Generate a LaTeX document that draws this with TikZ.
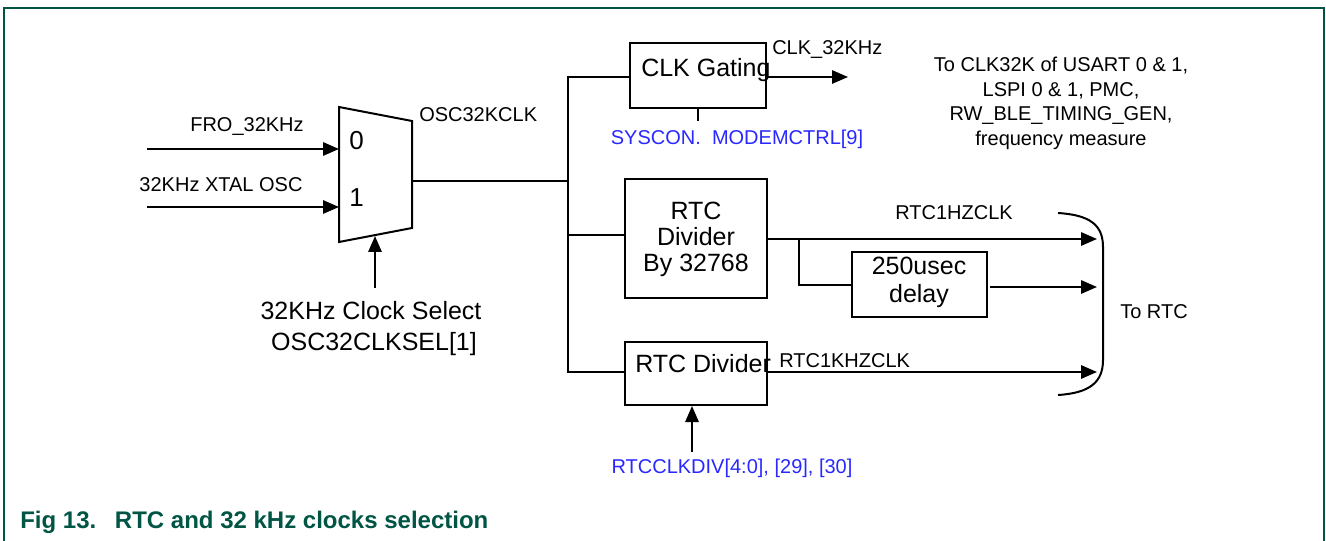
\documentclass[tikz,border=0pt]{standalone}
\usepackage{fontspec}
\setmainfont{Liberation Sans}
\usetikzlibrary{arrows.meta,fit}
\definecolor{framegreen}{RGB}{0,85,68}
\definecolor{regblue}{RGB}{40,40,255}

\begin{document}
\begin{tikzpicture}[x=0.75pt,y=-0.75pt,
  wire/.style={line width=1.5pt},
  sig/.style={wire,-{Triangle[length=12pt,width=10pt]}},
  blk/.style={draw,line width=1.5pt,inner sep=0pt},
  thinblk/.style={draw,line width=0.8pt,inner sep=0pt},
  lbl/.style={inner sep=0pt,font=\fontsize{15}{18}\selectfont},
  big/.style={inner sep=0pt,font=\fontsize{18.75}{22}\selectfont},
  pin/.style={inner sep=0pt,font=\fontsize{19.5}{22}\selectfont},
  reg/.style={lbl,text=regblue},
]
\useasboundingbox (0,0) rectangle (1326,541);

% frame
\draw[framegreen,line width=1.5pt] (4,541) -- (4,8) -- (1324,8) -- (1324,541);

% 2:1 clock multiplexer
\draw[wire] (339,107) -- (412,121) -- (412,228) -- (339,242) -- cycle;
\coordinate (mux0) at (339,149);
\coordinate (mux1) at (339,207);
\coordinate (muxout) at (412,181);
\coordinate (muxsel) at (375,236);
\node[pin,anchor=base west] (d0) at (349,150) {0};
\node[pin,anchor=base west] (d1) at (349,207) {1};

% mux inputs
\coordinate (fro) at (147,149);
\coordinate (xtal) at (147,207);
\draw[sig] (fro) -- (mux0);
\draw[sig] (xtal) -- (mux1);
\node[lbl,anchor=base] (frolbl) at (247,132) {FRO\_32KHz};
\node[lbl,anchor=base] (xtallbl) at (221,192) {32KHz XTAL OSC};
\node[lbl,anchor=base west] (osclbl) at (419,122) {OSC32KCLK};

% select
\coordinate (selsrc) at (375,288);
\draw[sig] (selsrc) -- (muxsel);
\node[big,anchor=base] (sel1) at (371,320) {32KHz Clock Select};
\node[big,anchor=base] (sel2) at (374,350) {OSC32CLKSEL[1]};

% blocks
\node[blk,fit={(630,43)(766,108)}] (gate) {};
\node[big,anchor=base west] (gatetxt) at (641,77) {CLK Gating};
\node[blk,fit={(625,179)(767,298)}] (div1) {};
\node[big,anchor=base] (div1a) at (696,220) {RTC};
\node[big,anchor=base] (div1b) at (696,246) {Divider};
\node[big,anchor=base] (div1c) at (696,272) {By 32768};
\node[thinblk,fit={(852,252)(987,317)}] (dly) {};
\node[big,anchor=base] (dlya) at (919,275) {250usec};
\node[big,anchor=base] (dlyb) at (919,302) {delay};
\node[blk,fit={(625,342)(767,405)}] (div2) {};
\node[big,anchor=base west] (div2txt) at (635,372) {RTC Divider};

% clock distribution bus
\coordinate (bus) at (568,181);
\draw[wire] (muxout) -- (bus);
\draw[wire] (gate.west |- 0,77) -- (568,77) -- (568,372) -- (div2.west |- 0,372);
\draw[wire] (568,235) -- (div1.west |- 0,235);

% CLK gating output and control
\coordinate (clk32) at (848,77);
\draw[sig] (gate.east |- clk32) -- (clk32);
\node[lbl,anchor=base west] (clk32lbl) at (772,55) {CLK\_32KHz};
\coordinate (gatectl) at (698,121);
\draw[wire] (gate.south -| gatectl) -- (gatectl);
\node[reg,anchor=base] (gatereg) at (737,145) {SYSCON.\ \ MODEMCTRL[9]};

% destinations of the gated clock
\node[lbl,anchor=base] (dest1) at (1061,72) {To CLK32K of USART 0 \& 1,};
\node[lbl,anchor=base] (dest2) at (1061,96.5) {LSPI 0 \& 1, PMC,};
\node[lbl,anchor=base] (dest3) at (1061,121) {RW\_BLE\_TIMING\_GEN,};
\node[lbl,anchor=base] (dest4) at (1061,145.5) {frequency measure};

% RTC outputs
\coordinate (hz) at (1097,239);
\coordinate (hzd) at (1097,287);
\coordinate (khz) at (1097,372);
\coordinate (tap) at (799,239);
\draw[sig] (div1.east |- hz) -- (hz);
\draw[wire] (tap) -- (799,285) -- (dly.west |- 0,285);
\draw[sig] (990,287) -- (hzd);
\draw[sig] (div2.east |- khz) -- (khz);
\node[lbl,anchor=base] (hzlbl) at (954,220) {RTC1HZCLK};
\node[lbl,anchor=base west] (khzlbl) at (779,367) {RTC1KHZCLK};

% RTC divider control
\coordinate (divsrc) at (692,452);
\draw[sig] (divsrc) -- (div2.south -| divsrc);
\node[reg,anchor=base] (divreg) at (732,473) {RTCCLKDIV[4:0], [29], [30]};

% bracket gathering the RTC clocks
\draw[wire] (1058,213) .. controls (1090,215) and (1103,225) .. (1103,247)
  -- (1103,360) .. controls (1103,382) and (1090,393) .. (1058,395);
\node[lbl,anchor=base west] (tortc) at (1120,318) {To RTC};

% caption
\node[inner sep=0pt,anchor=base west,text=framegreen,
  font=\fontsize{18}{21}\selectfont\bfseries] (cap) at (20,528)
  {Fig 13.\hspace{14pt}RTC and 32 kHz clocks selection};
\end{tikzpicture}
\end{document}
